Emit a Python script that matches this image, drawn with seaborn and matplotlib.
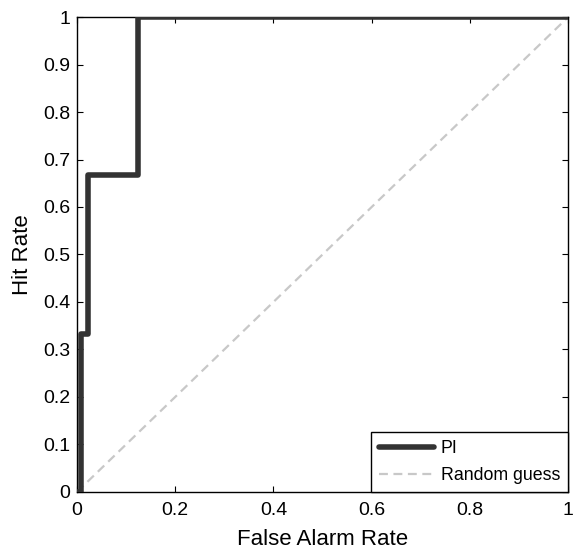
import matplotlib
matplotlib.use("Agg")
import matplotlib.pyplot as plt
import numpy as np
import pandas as pd
import seaborn as sns

# ROC step curve for PI (false alarm rate vs hit rate)
far = [0.0, 0.008, 0.008, 0.022, 0.022, 0.125, 0.125, 1.0]
hit = [0.0, 0.0, 0.333, 0.333, 0.667, 0.667, 1.0, 1.0]
chance_x = [0.0, 1.0]
chance_y = [0.0, 1.0]

sns.set_theme(style="white")
plt.rcParams["font.family"] = ["Liberation Sans", "DejaVu Sans"]
plt.rcParams["text.color"] = "black"
plt.rcParams["axes.labelcolor"] = "black"

fig = plt.figure(figsize=(5.75, 5.52), dpi=100)
ax = fig.add_axes([0.134, 0.109, 0.854, 0.860])

roc = pd.DataFrame({"far": far, "hit": hit})
diag = pd.DataFrame({"far": chance_x, "hit": chance_y})
sns.lineplot(data=roc, x="far", y="hit", sort=False, estimator=None, ax=ax,
             color="#333333", linewidth=4, label="PI", zorder=3)
sns.lineplot(data=diag, x="far", y="hit", sort=False, estimator=None, ax=ax,
             color="#c8c8c8", linewidth=1.6, linestyle=(0, (4, 2.5)),
             label="Random guess", zorder=2)

ax.set_xlim(0, 1)
ax.set_ylim(0, 1)
ax.set_xticks(np.arange(0, 1.01, 0.2))
ax.set_xticklabels(["0", "0.2", "0.4", "0.6", "0.8", "1"])
ax.set_yticks(np.arange(0, 1.01, 0.1))
ax.set_yticklabels(["0"] + [f"{v:.1f}" for v in np.arange(0.1, 1.0, 0.1)] + ["1"])
ax.tick_params(direction="in", length=4, width=0.8, colors="black", labelsize=14,
               top=True, right=True, bottom=True, left=True)
ax.tick_params(axis="x", pad=7.5)
ax.tick_params(axis="y", pad=5)
for s in ax.spines.values():
    s.set_color("black")
    s.set_linewidth(1.0)
ax.set_xlabel("False Alarm Rate", fontsize=16, labelpad=7)
ax.set_ylabel("Hit Rate", fontsize=16, labelpad=7)

leg = ax.legend(loc="lower right", fontsize=12.8, frameon=True, fancybox=False,
                borderaxespad=0.0, handlelength=3.1, borderpad=0.45, labelspacing=0.55,
                handletextpad=0.4)
leg.get_frame().set_edgecolor("black")
leg.get_frame().set_linewidth(1.0)
leg.get_frame().set_alpha(1.0)

fig.savefig("out.png", dpi=100)
